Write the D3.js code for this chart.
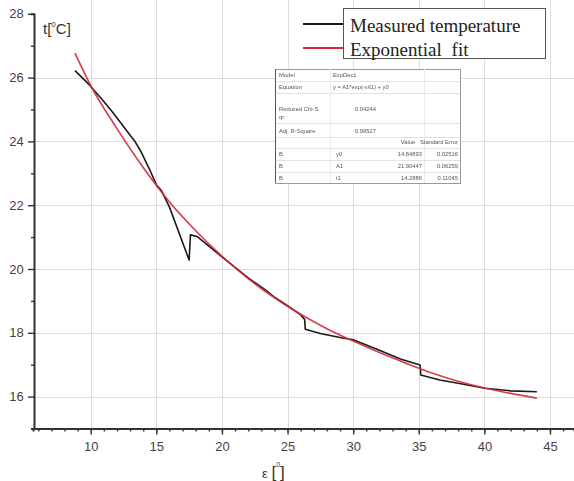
<!DOCTYPE html>
<html>
<head>
<meta charset="utf-8">
<script src="https://cdn.jsdelivr.net/npm/d3@7"></script>
<style>
  html, body { margin: 0; padding: 0; background: #fff; }
  svg { display: block; }
</style>
</head>
<body>
<svg id="chart" width="574" height="481"></svg>
<script>
// Measured temperature along the angle ε
const measuredAngle = [8.8, 9.9, 10.9, 11.7, 12.8, 13.4, 13.8, 14.5, 15.0, 15.4, 16.0, 17.5, 17.6, 18.1, 19.0, 20.0, 21.0, 22.0, 23.15, 24.0, 25.0, 25.95, 26.3, 26.35, 27.5, 29.0, 30.0, 32.0, 33.6, 35.1, 35.15, 36.6, 38.0, 40.05, 42.0, 44.0];
const measuredTemp  = [26.22, 25.77, 25.30, 24.90, 24.30, 23.98, 23.70, 23.11, 22.64, 22.45, 21.94, 20.28, 21.07, 21.02, 20.72, 20.38, 20.05, 19.72, 19.39, 19.12, 18.85, 18.58, 18.42, 18.11, 17.98, 17.85, 17.78, 17.45, 17.18, 16.99, 16.68, 16.52, 16.42, 16.26, 16.18, 16.15];

// Exponential fit curve
const fitAngle = [8.8, 10, 12, 14, 16, 18, 20, 22, 24, 26, 28, 30, 32, 34, 36, 38, 40, 42, 44];
const fitTemp  = [26.77, 25.75, 24.40, 23.18, 22.10, 21.20, 20.40, 19.70, 19.10, 18.58, 18.13, 17.74, 17.38, 17.05, 16.74, 16.48, 16.27, 16.10, 15.95];

// Axis ticks
const xMajorTicks = [10, 15, 20, 25, 30, 35, 40, 45];
const xMinorTicks = d3.range(6, 47);
const yMajorTicks = [16, 18, 20, 22, 24, 26, 28];
const yMinorTicks = [17, 19, 21, 23, 25, 27];

// Legend entries
const legendLabels = ["Measured temperature", "Exponential fit"];
const legendColors = ["#1a1a1a", "#d42a3c"];

// Fit report table
const reportHead = [
  ["Model", "ExpDec1"],
  ["Equation", "y = A1*exp(-x/t1) + y0"]
];
const reportStats = [
  ["Reduced Chi-S", "qr", "0.04244"],
  ["Adj. R-Square", "", "0.99527"]
];
const reportColumns = ["Value", "Standard Error"];
const reportParams = [
  ["B", "y0", "14.84893", "0.02516"],
  ["B", "A1", "21.90447", "0.06259"],
  ["B", "t1", "14.2886", "0.11045"]
];

const svg = d3.select("#chart");
const x = d3.scaleLinear().domain([5.6, 46.83]).range([33, 574]);
const y = d3.scaleLinear().domain([15, 28]).range([428.5, 13.8]);

const axisFont = "'Liberation Sans', Arial, sans-serif";

// grid
const grid = svg.append("g").attr("stroke", "#dcdcdc").attr("stroke-width", 1);
grid.selectAll("line.vx").data(xMajorTicks).join("line")
  .attr("x1", d => Math.round(x(d)) + 0.5).attr("x2", d => Math.round(x(d)) + 0.5)
  .attr("y1", 0).attr("y2", y(15));
grid.selectAll("line.hy").data(yMajorTicks.filter(d => d < 28)).join("line")
  .attr("x1", x(5.6)).attr("x2", 574)
  .attr("y1", d => Math.round(y(d)) + 0.5).attr("y2", d => Math.round(y(d)) + 0.5);

// x axis
const xAxis = svg.append("g").attr("transform", `translate(0,${y(15)})`);
xAxis.call(d3.axisBottom(x).tickValues(xMinorTicks).tickSize(3).tickFormat(""));
xAxis.call(g => g.append("g").call(d3.axisBottom(x).tickValues(xMajorTicks).tickSize(6).tickFormat(d3.format("d"))));
xAxis.selectAll(".domain").attr("stroke", "#333").attr("stroke-width", 2);
xAxis.selectAll(".tick line").attr("stroke", "#333").attr("stroke-width", 1.4);
xAxis.selectAll(".tick text").attr("fill", "#444").attr("font-size", 13)
  .attr("font-family", axisFont).attr("dy", "1.05em");
xAxis.selectAll("path.domain").filter((d, i) => i > 0).remove();

// y axis
const yAxis = svg.append("g").attr("transform", `translate(${x(5.6) + 1},0)`);
yAxis.call(d3.axisLeft(y).tickValues(yMinorTicks).tickSize(3).tickFormat(""));
yAxis.call(g => g.append("g").call(d3.axisLeft(y).tickValues(yMajorTicks).tickSize(6).tickFormat(d3.format("d"))));
yAxis.selectAll(".domain").attr("stroke", "#333").attr("stroke-width", 2);
yAxis.selectAll(".tick line").attr("stroke", "#333").attr("stroke-width", 1.4);
yAxis.selectAll(".tick text").attr("fill", "#444").attr("font-size", 13)
  .attr("font-family", axisFont).attr("dx", "-0.1em");
yAxis.selectAll("path.domain").filter((d, i) => i > 0).remove();

// axis titles
const yTitle = svg.append("text").attr("x", 43).attr("y", 34)
  .attr("font-family", axisFont).attr("font-size", 15).attr("fill", "#333");
yTitle.append("tspan").text("t[");
yTitle.append("tspan").attr("font-size", 8).attr("dy", -7).text("0");
yTitle.append("tspan").attr("dy", 7).text("C]");

const xTitle = svg.append("text").attr("x", 262).attr("y", 478)
  .attr("font-family", axisFont).attr("font-size", 13).attr("fill", "#333");
xTitle.append("tspan").text("ε ");
xTitle.append("tspan").attr("font-size", 17).text("[");
xTitle.append("tspan").attr("font-size", 7).attr("dy", -11).text("0");
xTitle.append("tspan").attr("font-size", 17).attr("dy", 11).text("]");

// curves
const measured = measuredAngle.map((a, i) => [a, measuredTemp[i]]);
const fitted = fitAngle.map((a, i) => [a, fitTemp[i]]);
svg.append("path").datum(measured)
  .attr("d", d3.line().x(d => x(d[0])).y(d => y(d[1])))
  .attr("fill", "none").attr("stroke", legendColors[0]).attr("stroke-width", 1.6)
  .attr("stroke-linejoin", "round");
svg.append("path").datum(fitted)
  .attr("d", d3.line().curve(d3.curveMonotoneX).x(d => x(d[0])).y(d => y(d[1])))
  .attr("fill", "none").attr("stroke", legendColors[1]).attr("stroke-width", 1.7)
  .attr("opacity", 0.9);

// legend
const legend = svg.append("g");
legend.append("rect").attr("x", 343.5).attr("y", 8.5).attr("width", 202).attr("height", 50)
  .attr("fill", "#fff").attr("stroke", "#555").attr("stroke-width", 1);
legendLabels.forEach((label, i) => {
  const ly = 24 + i * 24;
  legend.append("line").attr("x1", 303).attr("x2", 343).attr("y1", ly).attr("y2", ly)
    .attr("stroke", legendColors[i]).attr("stroke-width", 1.8);
  legend.append("text").attr("x", 350).attr("y", ly + 8)
    .attr("font-family", "'Liberation Serif', 'Times New Roman', serif")
    .attr("font-size", 19).attr("fill", "#222").attr("word-spacing", i === 1 ? 5 : 0)
    .text(label);
});

// fit report table
const table = svg.append("g").attr("filter", "url(#soft)");
svg.append("defs").append("filter").attr("id", "soft")
  .append("feGaussianBlur").attr("stdDeviation", 0.35);
const tx0 = 275, tx1 = 460, ty0 = 69, ty1 = 183;
table.append("rect").attr("x", tx0 + 0.5).attr("y", ty0 + 0.5)
  .attr("width", tx1 - tx0).attr("height", ty1 - ty0)
  .attr("fill", "#fff").attr("stroke", "#9a9a9a");
const rowLines = [81, 93, 123, 137, 148, 160, 172];
table.selectAll("line.row").data(rowLines).join("line")
  .attr("x1", tx0).attr("x2", tx1).attr("y1", d => d + 0.5).attr("y2", d => d + 0.5)
  .attr("stroke", "#e2e2e2");
table.selectAll("line.col").data([330, 424]).join("line")
  .attr("x1", d => d + 0.5).attr("x2", d => d + 0.5).attr("y1", ty0).attr("y2", ty1)
  .attr("stroke", "#ececec");
table.append("line").attr("x1", tx0 + 0.5).attr("x2", tx0 + 0.5).attr("y1", ty0).attr("y2", ty1)
  .attr("stroke", "#555");

const tf = { "font-family": axisFont, "font-size": 5.8, "fill": "#555" };
function cell(tx, ty, txt, anchor) {
  const t = table.append("text").attr("x", tx).attr("y", ty).attr("text-anchor", anchor || "start").text(txt);
  Object.entries(tf).forEach(([k, v]) => t.attr(k, v));
}
reportHead.forEach((r, i) => {
  cell(279, 77 + i * 12, r[0]);
  cell(333, 77 + i * 12, r[1]);
});
cell(279, 111, reportStats[0][0]);
cell(279, 119, reportStats[0][1]);
cell(355, 111, reportStats[0][2]);
cell(279, 133, reportStats[1][0]);
cell(355, 133, reportStats[1][2]);
cell(408, 144, reportColumns[0], "middle");
cell(458, 144, reportColumns[1], "end");
reportParams.forEach((r, i) => {
  const ry = 156 + i * 12;
  cell(279, ry, r[0]);
  cell(336, ry, r[1]);
  cell(422, ry, r[2], "end");
  cell(458, ry, r[3], "end");
});
</script>
</body>
</html>
